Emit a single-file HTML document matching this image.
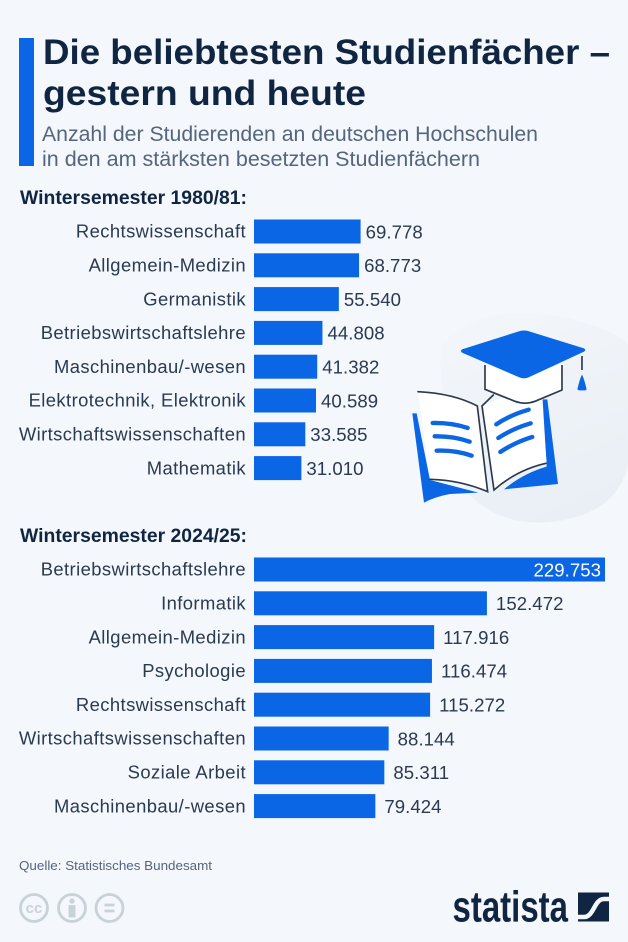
<!DOCTYPE html>
<html lang="de">
<head>
<meta charset="utf-8">
<title>Die beliebtesten Studienfächer</title>
<style>
html,body{margin:0;padding:0;background:#f4f7fb;}
body{width:628px;height:942px;overflow:hidden;}
svg{display:block;font-family:"Liberation Sans",sans-serif;}
</style>
</head>
<body>
<svg id="chart" width="628" height="942" viewBox="0 0 628 942" xmlns="http://www.w3.org/2000/svg">
  <defs>
    <linearGradient id="blob-fill" x1="0.2" y1="0" x2="0.6" y2="1">
      <stop offset="0" stop-color="#f3f6fa"/>
      <stop offset="1" stop-color="#e9eff5"/>
    </linearGradient>
  </defs>
  <rect width="628" height="942" fill="#f4f7fb"/>
  <rect x="19" y="38" width="15" height="128" fill="#0a66e4"/>
  <text x="43" y="64" font-size="35" font-weight="700" fill="#0f2541" textLength="567" lengthAdjust="spacingAndGlyphs">Die beliebtesten Studienfächer –</text>
  <text x="43" y="105" font-size="35" font-weight="700" fill="#0f2541" textLength="323" lengthAdjust="spacingAndGlyphs">gestern und heute</text>
  <text x="42" y="141" font-size="21.5" fill="#54657d" textLength="496" lengthAdjust="spacingAndGlyphs">Anzahl der Studierenden an deutschen Hochschulen</text>
  <text x="42" y="166" font-size="21.5" fill="#54657d" textLength="438" lengthAdjust="spacingAndGlyphs">in den am stärksten besetzten Studienfächern</text>
  <text x="20" y="204" font-size="19" font-weight="700" fill="#0f2541" textLength="227" lengthAdjust="spacingAndGlyphs">Wintersemester 1980/81:</text>
  <text x="20" y="542" font-size="19" font-weight="700" fill="#0f2541" textLength="227" lengthAdjust="spacingAndGlyphs">Wintersemester 2024/25:</text>

  <g id="illustration" transform="translate(400 310) scale(0.3333)">
    <path d="M125 110 C170 35 270 5 390 10 C480 15 610 40 684 100 L684 460 C660 580 560 625 450 636 C340 645 260 610 200 545 C150 400 110 220 125 110Z" fill="url(#blob-fill)"/>
    <path d="M37 310 L50 310 L90 510 L235 548 L150 552 Q105 560 72 578Z" fill="#0a66e4"/>
    <path d="M428 268 L442 268 L474 522 L312 538 Q370 490 440 470Z" fill="#0a66e4"/>
    <path d="M54 245 Q160 250 232 288 L263 545 Q180 510 90 508Z" fill="#fff" stroke="none"/>
    <path d="M246 288 Q330 245 425 262 L440 460 Q350 480 280 540Z" fill="#fff" stroke="none"/>
    <path d="M54 245 Q160 250 232 288 L263 545 Q180 510 90 508 M246 288 L282 540 Q350 480 438 460 M246 288 L280 255" fill="none" stroke="#2b3a4d" stroke-width="5" stroke-linecap="round"/>
    <path d="M98 339 Q155 338 203 354 M104 379 Q160 378 209 395 M110 422 Q165 420 215 437 M289 343 Q330 315 386 299 M295 384 Q340 355 392 340 M301 426 Q345 397 397 381" fill="none" stroke="#0a66e4" stroke-width="13" stroke-linecap="round"/>
    <path d="M255 160 L255 238 L345 274 Q375 285 405 274 L486 240 L486 160 L370 205Z" fill="#fff"/>
    <path d="M255 165 L255 238 L345 274 Q375 285 405 274 L486 240 L486 165" fill="none" stroke="#2b3a4d" stroke-width="5" stroke-linejoin="round"/>
    <path d="M186 118 L360 63 Q372 60 384 63 L552 115 Q560 120 552 125 L384 203 Q372 207 360 203 L186 128 Q180 122 186 118Z" fill="#0a66e4"/>
    <path d="M546 138 V180" stroke="#2b3a4d" stroke-width="5"/>
    <path d="M546 194 Q552 205 559 234 Q561 241 555 241 L538 241 Q531 241 533 234 Q540 205 546 194Z" fill="#0a66e4"/>
  </g>

  <g id="bars-1980"></g>
  <g id="bars-2024"></g>

  <text x="19" y="870" font-size="13" fill="#54657d" textLength="193" lengthAdjust="spacingAndGlyphs">Quelle: Statistisches Bundesamt</text>

  <g fill="none" stroke="#c8d2d9" stroke-width="2.8">
    <circle cx="34" cy="908" r="13.5"/>
    <text x="34" y="913" font-size="15" font-weight="700" text-anchor="middle" fill="#c8d2d9" stroke="none">cc</text>
    <circle cx="72" cy="908" r="13.5"/>
    <circle cx="72" cy="901" r="2.6" fill="#c8d2d9" stroke="none"/>
    <rect x="68.5" y="905" width="7" height="12.5" rx="1.2" fill="#c8d2d9" stroke="none"/>
    <circle cx="109.5" cy="908" r="13.5"/>
    <path d="M104.5 905 H114.5 M104.5 911 H114.5"/>
  </g>

  <a>
    <text x="452.5" y="921.5" font-size="44" font-weight="700" fill="#0f2541" textLength="115.5" lengthAdjust="spacingAndGlyphs">statista</text>
    <rect x="578" y="892.5" width="31" height="29" fill="#0f2541"/>
    <path d="M578 917 H584 C594 917 594 899 604 899 H609" fill="none" stroke="#f4f7fb" stroke-width="4.5"/>
  </a>
</svg>
<script>
const categories1980 = ["Rechtswissenschaft","Allgemein-Medizin","Germanistik","Betriebswirtschaftslehre","Maschinenbau/-wesen","Elektrotechnik, Elektronik","Wirtschaftswissenschaften","Mathematik"];
const values1980 = [69778,68773,55540,44808,41382,40589,33585,31010];
const categories2024 = ["Betriebswirtschaftslehre","Informatik","Allgemein-Medizin","Psychologie","Rechtswissenschaft","Wirtschaftswissenschaften","Soziale Arbeit","Maschinenbau/-wesen"];
const values2024 = [229753,152472,117916,116474,115272,88144,85311,79424];

const SVG_NS = "http://www.w3.org/2000/svg";
const barX0 = 254;
const maxValue = 229753;
const maxBarWidth = 351;
function xScale(v){ return v / maxValue * maxBarWidth; }
function rowY(start, i){ return start + i * 33.8; }
function formatValue(v){ return String(v).replace(/\B(?=(\d{3})+$)/g, "."); }

function drawGroup(groupId, categories, values, startY, valueGap){
  const group = document.getElementById(groupId);
  categories.forEach(function(cat, i){
    const cy = rowY(startY, i);
    const w = xScale(values[i]);

    const label = document.createElementNS(SVG_NS, "text");
    label.setAttribute("x", 246);
    label.setAttribute("y", cy + 6.2);
    label.setAttribute("text-anchor", "end");
    label.setAttribute("font-size", "18.4");
    label.setAttribute("letter-spacing", "0.42");
    label.setAttribute("fill", "#2a3a50");
    
    
    label.textContent = cat;
    group.appendChild(label);

    const bar = document.createElementNS(SVG_NS, "rect");
    bar.setAttribute("x", barX0);
    bar.setAttribute("y", cy - 12);
    bar.setAttribute("width", w);
    bar.setAttribute("height", 24);
    bar.setAttribute("fill", "#0a66e4");
    
    
    group.appendChild(bar);

    const val = document.createElementNS(SVG_NS, "text");
    const inside = w > 300;
    val.setAttribute("x", inside ? barX0 + w - 4 : barX0 + w + valueGap);
    val.setAttribute("y", cy + 6.8);
    val.setAttribute("text-anchor", inside ? "end" : "start");
    val.setAttribute("font-size", "18.6");
    val.setAttribute("letter-spacing", "0.05");
    val.setAttribute("fill", inside ? "#ffffff" : "#2a3a50");
    
    
    val.textContent = formatValue(values[i]);
    group.appendChild(val);
  });
}
drawGroup("bars-1980", categories1980, values1980, 231.5, 5);
drawGroup("bars-2024", categories2024, values2024, 569.5, 9);
</script>
</body>
</html>
